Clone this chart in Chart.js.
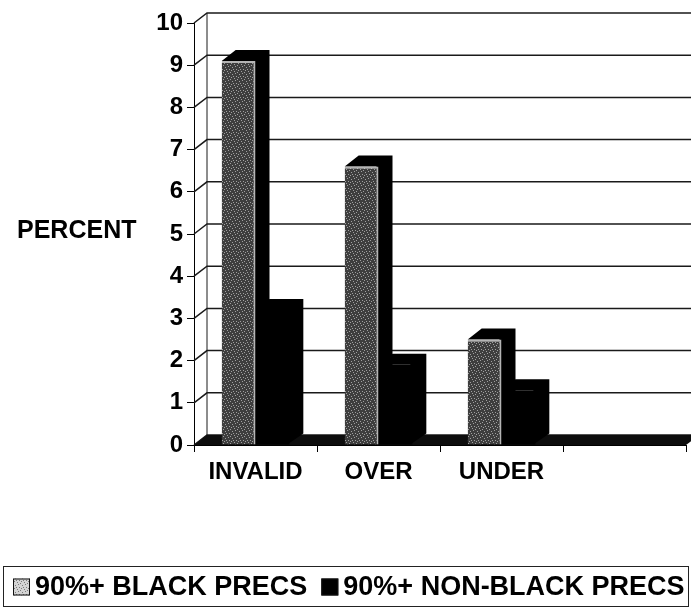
<!DOCTYPE html>
<html>
<head>
<meta charset="utf-8">
<script src="https://cdn.jsdelivr.net/npm/chart.js@4/dist/chart.umd.min.js"></script>
<style>
  html, body { margin: 0; padding: 0; background: #fff; }
</style>
</head>
<body>
<canvas id="chart" width="691" height="609"></canvas>
<script>
// Chart data
const categories = ['INVALID', 'OVER', 'UNDER', ''];
const blackPrecs = [9.1, 6.6, 2.5, 0];
const nonBlackPrecs = [3.2, 1.9, 1.3, 0];
const seriesNames = ['90%+ BLACK PRECS', '90%+ NON-BLACK PRECS'];
const yAxisTitle = 'PERCENT';
const yMin = 0;
const yMax = 10;
const yStep = 1;

const FONT = "'Liberation Sans', Arial, sans-serif";
// 3D offsets (back wall and bar depth)
const WALL_DX = 13, WALL_DY = -10;
const BAR_DX = 14, BAR_DY = -11;

const canvas = document.getElementById('chart');
const mainCtx = canvas.getContext('2d');

// Stippled gray fill like the scanned bars
function makeStipple(base, dot) {
    const c = document.createElement('canvas');
    c.width = 7; c.height = 7;
    const g = c.getContext('2d');
    g.fillStyle = base;
    g.fillRect(0, 0, 7, 7);
    g.fillStyle = dot;
    [[0, 0], [3, 1], [6, 2], [1, 4], [4, 3], [5, 6], [2, 6]].forEach(([x, y]) => g.fillRect(x, y, 1, 1));
    return mainCtx.createPattern(c, 'repeat');
}
const grayFill = makeStipple('#3e3e3e', '#a0a0a0');
const legendGray = makeStipple('#d4d4d4', '#7a7a7a');

// Back wall, gridlines, floor and bar depth faces
const depthPlugin = {
    id: 'depth',
    beforeDatasetsDraw(chart) {
        const { ctx, chartArea: a, scales: { y } } = chart;
        ctx.save();
        ctx.strokeStyle = '#1a1a1a';
        ctx.lineWidth = 1.5;
        for (let v = yMin; v <= yMax; v += yStep) {
            const py = y.getPixelForValue(v);
            ctx.beginPath();
            ctx.moveTo(a.left, py);
            ctx.lineTo(a.left + WALL_DX, py + WALL_DY);
            ctx.lineTo(chart.width, py + WALL_DY);
            ctx.stroke();
        }
        // back wall left edge
        ctx.lineWidth = 1;
        ctx.beginPath();
        ctx.moveTo(a.left + WALL_DX, a.top + WALL_DY);
        ctx.lineTo(a.left + WALL_DX, a.bottom + WALL_DY);
        ctx.stroke();

        // floor
        ctx.fillStyle = '#0d0d0d';
        ctx.beginPath();
        ctx.moveTo(a.left, a.bottom);
        ctx.lineTo(a.right, a.bottom);
        ctx.lineTo(a.right + WALL_DX, a.bottom + WALL_DY);
        ctx.lineTo(a.left + WALL_DX, a.bottom + WALL_DY);
        ctx.closePath();
        ctx.fill();

        // top and side faces of each bar
        ctx.fillStyle = '#000';
        chart.data.datasets.forEach((ds, i) => {
            chart.getDatasetMeta(i).data.forEach(bar => {
                if (bar.base - bar.y < 1) return;
                const xL = bar.x - bar.width / 2;
                const xR = bar.x + bar.width / 2;
                ctx.beginPath();
                ctx.moveTo(xL, bar.y);
                ctx.lineTo(xL + BAR_DX, bar.y + BAR_DY);
                ctx.lineTo(xR + BAR_DX, bar.y + BAR_DY);
                ctx.lineTo(xR + BAR_DX, bar.base + BAR_DY);
                ctx.lineTo(xR - 2, bar.base);
                ctx.lineTo(xR - 2, bar.y);
                ctx.closePath();
                ctx.fill();
            });
        });
        ctx.restore();
    }
};

// Horizontal axis title and boxed legend
const labelsPlugin = {
    id: 'labels',
    afterDraw(chart) {
        const { ctx, chartArea: a } = chart;
        ctx.save();
        ctx.fillStyle = '#000';
        ctx.font = 'bold 25px ' + FONT;
        ctx.textBaseline = 'middle';
        ctx.textAlign = 'left';
        ctx.fillText(yAxisTitle, 17, (a.top + a.bottom) / 2 - 3);

        // legend box
        ctx.strokeStyle = '#222';
        ctx.lineWidth = 1;
        ctx.strokeRect(3.5, 566.5, chart.width - 6, 40);
        ctx.font = 'bold 27px ' + FONT;
        const swatches = [legendGray, '#000'];
        let x = 13;
        const cy = 587;
        chart.data.datasets.forEach((ds, i) => {
            const sw = 17;
            ctx.fillStyle = swatches[i];
            ctx.fillRect(x, cy - sw / 2, sw, sw);
            ctx.strokeStyle = '#111';
            ctx.strokeRect(x + 0.5, cy - sw / 2 + 0.5, sw - 1, sw - 1);
            x += sw + 5;
            ctx.fillStyle = '#000';
            ctx.fillText(ds.label, x, cy + 1);
            x += ctx.measureText(ds.label).width + 14;
        });
        ctx.restore();
    }
};

new Chart(canvas, {
    type: 'bar',
    data: {
        labels: categories,
        datasets: [
            {
                label: seriesNames[0],
                data: blackPrecs,
                backgroundColor: grayFill,
                borderColor: '#b5b5b5',
                borderWidth: { top: 2, right: 2, left: 0, bottom: 0 },
                borderSkipped: false
            },
            {
                label: seriesNames[1],
                data: nonBlackPrecs,
                backgroundColor: '#000',
                borderWidth: 0
            }
        ]
    },
    options: {
        responsive: false,
        animation: false,
        devicePixelRatio: 1,
        categoryPercentage: 0.55,
        barPercentage: 1.0,
        layout: { padding: { top: 23, right: 5, bottom: 120, left: 0 } },
        scales: {
            x: {
                afterFit: scale => { scale.height = 44; },
                grid: { drawOnChartArea: false, color: '#000', tickLength: 7 },
                border: { color: '#000', width: 1 },
                ticks: {
                    color: '#000',
                    padding: 6,
                    maxRotation: 0,
                    autoSkip: false,
                    font: { family: FONT, size: 24, weight: 'bold' }
                }
            },
            y: {
                min: yMin,
                max: yMax,
                afterFit: scale => { scale.width = 194; },
                grid: { drawOnChartArea: false, color: '#000', tickLength: 7 },
                border: { color: '#000', width: 1 },
                ticks: {
                    stepSize: yStep,
                    color: '#000',
                    padding: 4,
                    font: { family: FONT, size: 24, weight: 'bold' }
                }
            }
        },
        plugins: {
            legend: { display: false },
            tooltip: { enabled: false }
        }
    },
    plugins: [depthPlugin, labelsPlugin]
});
</script>
</body>
</html>
